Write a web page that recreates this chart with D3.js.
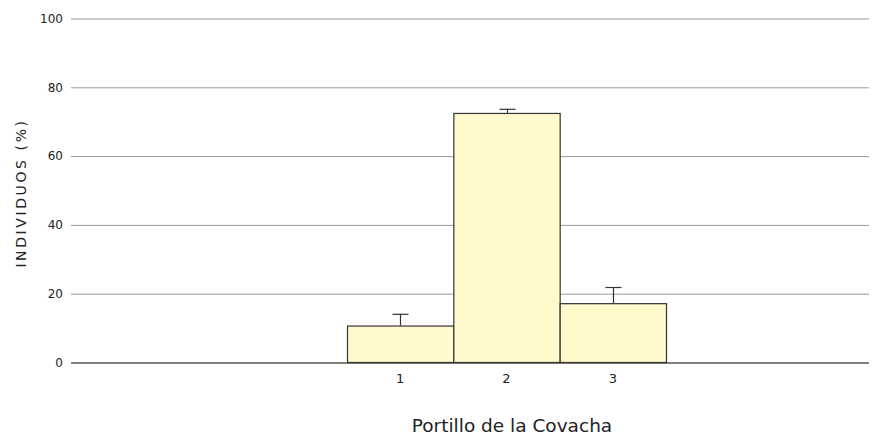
<!DOCTYPE html>
<html><head><meta charset="utf-8">
<script src="https://cdn.jsdelivr.net/npm/d3@7"></script>
<style>body{margin:0;background:#fff}svg{display:block}</style>
</head><body><svg id="c" width="874" height="438"></svg>
<script>
const categories = ["1", "2", "3"];
const values = [10.6, 72.4, 17.1];
const errorTops = [14.0, 73.6, 21.8];
const yTicks = [0, 20, 40, 60, 80, 100];
const yLabel = "INDIVIDUOS (%)";
const xTitle = "Portillo de la Covacha";

(function () {
const svg = d3.select("#c");
const font = "DejaVu Sans, Verdana, sans-serif";
const mLeft = 71, mRight = 869, mTop = 18, mBottom = 362;
const y = d3.scaleLinear().domain([0, 100]).range([mBottom, mTop]);
const x = d3.scaleBand().domain(categories).range([347, 666]).paddingInner(0);

// grid
const yAxis = d3.axisLeft(y).tickValues(yTicks).tickSize(-(mRight - mLeft)).tickPadding(8);
const ga = svg.append("g").attr("transform", `translate(${mLeft},0)`).call(yAxis);
ga.select(".domain").remove();
ga.selectAll(".tick line").attr("stroke", d => d === 0 ? "#000" : "#999").attr("stroke-width", 1)
  .attr("transform", "translate(0,0.5)");
ga.selectAll(".tick text").attr("font-family", font).attr("font-size", 12).attr("fill", "#222").attr("dy", "0.35em");

// bars
svg.append("g").selectAll("rect").data(values).join("rect")
  .attr("x", (d, i) => x(categories[i]) + 0.5)
  .attr("width", x.bandwidth())
  .attr("y", d => y(d) + 0.5)
  .attr("height", d => y(0) - y(d))
  .attr("fill", "#fff9cc").attr("stroke", "#333").attr("stroke-width", 1.2);

// error bars
const eb = svg.append("g").attr("stroke", "#333").attr("stroke-width", 1.2);
errorTops.forEach((e, i) => {
  const cx = Math.round(x(categories[i]) + x.bandwidth() / 2) + 0.5;
  eb.append("line").attr("x1", cx).attr("x2", cx).attr("y1", y(values[i])).attr("y2", y(e));
  eb.append("line").attr("x1", cx - 8).attr("x2", cx + 8).attr("y1", y(e) + 0.5).attr("y2", y(e) + 0.5);
});

// x tick labels
const xAxis = d3.axisBottom(x).tickSize(0).tickPadding(12);
const gx = svg.append("g").attr("transform", `translate(0,${mBottom})`).call(xAxis);
gx.select(".domain").remove();
gx.selectAll(".tick text").attr("font-family", font).attr("font-size", 13).attr("fill", "#222");

// titles
svg.append("text").attr("x", 512).attr("y", 432).attr("text-anchor", "middle")
  .attr("font-family", font).attr("font-size", 18.5).attr("fill", "#222").text(xTitle);
svg.append("text").attr("transform", "translate(26,193) rotate(-90)").attr("text-anchor", "middle")
  .attr("font-family", font).attr("font-size", 14).attr("letter-spacing", "2.6px").attr("fill", "#222").text(yLabel);
})();
</script></body></html>
